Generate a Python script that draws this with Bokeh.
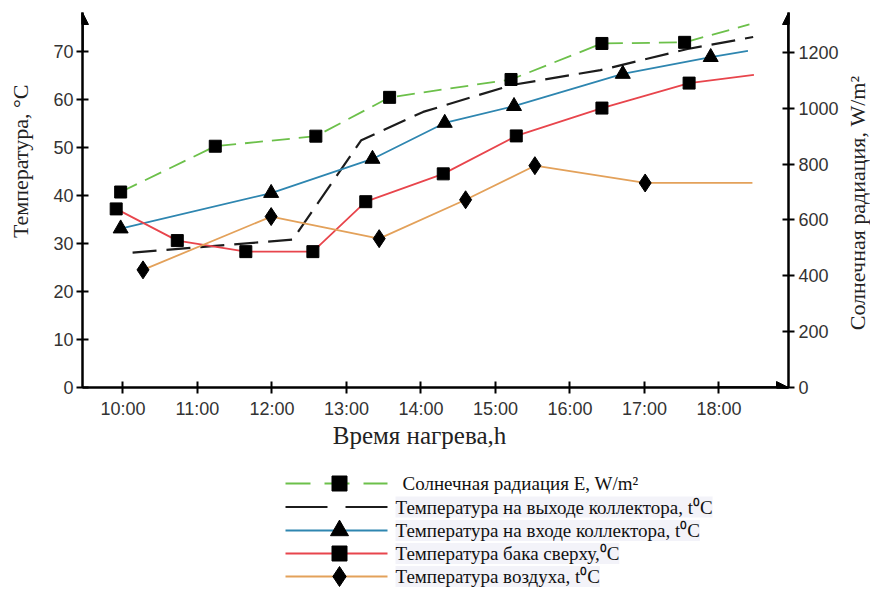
import math
from bokeh.plotting import figure
from bokeh.layouts import column, row
from bokeh.models import (Range1d, LinearAxis, FixedTicker, Arrow, NormalHead, Label)
from bokeh.embed import file_html
from bokeh.resources import INLINE

# ---------------- data ----------------
x_tick_hours = [10, 11, 12, 13, 14, 15, 16, 17, 18]
x_tick_labels = ["10:00", "11:00", "12:00", "13:00", "14:00", "15:00", "16:00", "17:00", "18:00"]
temp_ticks = [0, 10, 20, 30, 40, 50, 60, 70]
rad_ticks = [0, 200, 400, 600, 800, 1000, 1200]

rad_hours = [9.97, 11.24, 12.59, 13.58, 15.21, 16.43, 17.54, 18.41]
rad_values = [700, 864, 900, 1039, 1103, 1232, 1236, 1300]

out_hours = [10.13, 12.28, 13.20, 14.03, 15.22, 16.41, 17.58, 18.46]
out_values = [28.1, 30.8, 51.5, 57.4, 63.0, 66.1, 70.5, 73.0]

in_hours = [9.97, 11.99, 13.35, 14.32, 15.25, 16.71, 17.89, 18.39]
in_values = [33.1, 40.5, 47.6, 55.1, 58.6, 65.3, 68.8, 70.1]

tank_hours = [9.91, 10.73, 11.65, 12.55, 13.26, 14.30, 15.28, 16.43, 17.60, 18.47]
tank_values = [37.2, 30.6, 28.3, 28.3, 38.7, 44.5, 52.4, 58.2, 63.4, 65.1]

air_hours = [10.27, 11.99, 13.44, 14.60, 15.53, 17.01, 18.45]
air_values = [24.5, 35.6, 31.0, 39.1, 46.2, 42.6, 42.6]

legend_labels = [
    "Солнечная радиация E, W/m²",
    "Температура на выходе коллектора, t⁰C",
    "Температура на входе коллектора, t⁰C",
    "Температура бака сверху,⁰C",
    "Температура воздуха, t⁰C",
]
y_title = "Температура, °C"
y2_title = "Солнечная радиация, W/m²"
x_title = "Время нагрева,h"

# ---------------- layout constants (pixels) ----------------
W = 870                 # total width
LT_W = 36               # left title strip
RT_W = 26               # right title strip
P_W = W - LT_W - RT_W   # chart figure
H_TOP = 421
H_LEG = 587 - H_TOP
FR_L, FR_R, FR_T, FR_B = 82, 788, 12, 388      # frame edges (page px)
PX_PER_H = 74.5
H_CENTER_PX = 420.4                             # 14:00
PX_PER_C = 4.814
PX_PER_W = 0.28

x_start = 14 + (FR_L - H_CENTER_PX) / PX_PER_H
x_end = 14 + (FR_R - H_CENTER_PX) / PX_PER_H
y_end = (FR_B - FR_T) / PX_PER_C
rad_end = (FR_B - FR_T) / PX_PER_W

GREEN = "#6cc04a"
BLACK = "#1c1c1c"
BLUE = "#2e86b0"
RED = "#e8454c"
ORANGE = "#e3a15a"
SERIF = "Liberation Serif"
SANS = "Liberation Sans"
TITLE_COLOR = "#222222"

p = figure(width=P_W, height=H_TOP, output_backend="svg", toolbar_location=None,
           x_range=Range1d(x_start, x_end), y_range=Range1d(0, y_end),
           min_border_left=FR_L - LT_W, min_border_right=LT_W + P_W - FR_R,
           min_border_top=FR_T, min_border_bottom=H_TOP - FR_B,
           x_axis_location=None, y_axis_location=None)
p.extra_y_ranges = {"rad": Range1d(0, rad_end)}
p.grid.visible = False
p.outline_line_color = None
p.background_fill_color = "white"
p.border_fill_color = "white"


def style_axis(ax):
    ax.axis_line_width = 2.5
    ax.axis_line_color = "black"
    ax.major_tick_line_width = 2
    ax.major_tick_line_color = "black"
    ax.major_tick_in = 6
    ax.major_tick_out = 6
    ax.minor_tick_line_color = None
    ax.major_label_text_font = SANS
    ax.major_label_text_font_size = "18px"
    ax.major_label_text_color = "#333333"


xa = LinearAxis(ticker=FixedTicker(ticks=x_tick_hours),
                major_label_overrides={h: l for h, l in zip(x_tick_hours, x_tick_labels)})
style_axis(xa)
xa.major_label_standoff = 5
p.add_layout(xa, "below")

ya = LinearAxis(ticker=FixedTicker(ticks=temp_ticks))
style_axis(ya)
ya.major_label_standoff = 3
p.add_layout(ya, "left")

ra = LinearAxis(y_range_name="rad", ticker=FixedTicker(ticks=rad_ticks))
style_axis(ra)
ra.major_label_standoff = 4
p.add_layout(ra, "right")

# arrow heads on axes
for (xs, ys, xe, ye) in [(x_start, temp_ticks[-1], x_start, y_end),
                         (x_end, temp_ticks[-1], x_end, y_end),
                         (x_tick_hours[-1], 0, x_end, 0)]:
    p.add_layout(Arrow(end=NormalHead(size=12, fill_color="black", line_color="black"),
                       x_start=xs, y_start=ys, x_end=xe, y_end=ye,
                       line_width=2.5, line_color="black"))

# ---------------- series ----------------
p.line(rad_hours, rad_values, y_range_name="rad", line_color=GREEN,
       line_width=1.8, line_dash="18 9")
p.line(out_hours, out_values, line_color=BLACK, line_width=2.2, line_dash="24 10")
p.line(in_hours, in_values, line_color=BLUE, line_width=1.8)
p.line(tank_hours, tank_values, line_color=RED, line_width=1.8)
p.line(air_hours, air_values, line_color=ORANGE, line_width=1.8)

p.scatter(rad_hours[:-1], rad_values[:-1], y_range_name="rad", marker="square",
          size=12, fill_color="black", line_color="black")
p.scatter(in_hours[:-1], in_values[:-1], marker="triangle", size=15,
          fill_color="black", line_color="black")
p.scatter(tank_hours[:-1], tank_values[:-1], marker="square", size=12,
          fill_color="black", line_color="black")
p.scatter(air_hours[:-1], air_values[:-1], marker="diamond", size=18,
          fill_color="black", line_color="black")


def strip(width, height):
    f = figure(width=width, height=height, output_backend="svg", toolbar_location=None,
               x_range=Range1d(0, width), y_range=Range1d(0, height), min_border=0,
               x_axis_location=None, y_axis_location=None)
    f.grid.visible = False
    f.outline_line_color = None
    return f


# ---------------- left / right title strips ----------------
lt = strip(LT_W, H_TOP)
lt.add_layout(Label(x=20, y=H_TOP - 167, text=y_title, angle=math.pi / 2,
                    text_align="center", text_baseline="middle", text_font=SERIF,
                    text_font_size="22px", text_color=TITLE_COLOR))

rt = strip(RT_W, H_TOP)
rt.add_layout(Label(x=13, y=H_TOP - 214, text=y2_title, angle=math.pi / 2,
                    text_align="center", text_baseline="middle", text_font=SERIF,
                    text_font_size="22px", text_color=TITLE_COLOR))

# ---------------- bottom strip: x title + legend ----------------
lg = strip(W, H_LEG)
lg.add_layout(Label(x=419, y=H_LEG - (435 - H_TOP), text=x_title,
                    text_align="center", text_baseline="middle", text_font=SERIF,
                    text_font_size="25px", text_color=TITLE_COLOR))

row_y = [483, 506.5, 530, 553, 576]      # page rows of legend entries
g_x0, g_x1, g_xm = 285, 387, 339
styles = [
    dict(color=GREEN, width=2.0, dash="25 14", marker="square", size=15),
    dict(color=BLACK, width=2.2, dash="42 18", marker=None, size=0),
    dict(color=BLUE, width=2.0, dash="solid", marker="triangle", size=18),
    dict(color=RED, width=2.0, dash="solid", marker="square", size=15),
    dict(color=ORANGE, width=2.0, dash="solid", marker="diamond", size=20),
]
text_x = [402, 395, 395, 395, 395]
for i, (lab, st) in enumerate(zip(legend_labels, styles)):
    yy = H_LEG - (row_y[i] - H_TOP)
    lg.line([g_x0, g_x1], [yy, yy], line_color=st["color"], line_width=st["width"],
            line_dash=st["dash"])
    if st["marker"]:
        lg.scatter([g_xm], [yy], marker=st["marker"], size=st["size"],
                   fill_color="black", line_color="black")
    lg.add_layout(Label(x=text_x[i], y=yy, text=lab, text_font=SERIF,
                        text_font_size="19px", text_color="#111111",
                        text_baseline="middle", text_align="left",
                        background_fill_color=None if i == 0 else "#f3f3f9"))

layout = column(row(lt, p, rt), lg)
open("out.html", "w").write(file_html(layout, INLINE))
